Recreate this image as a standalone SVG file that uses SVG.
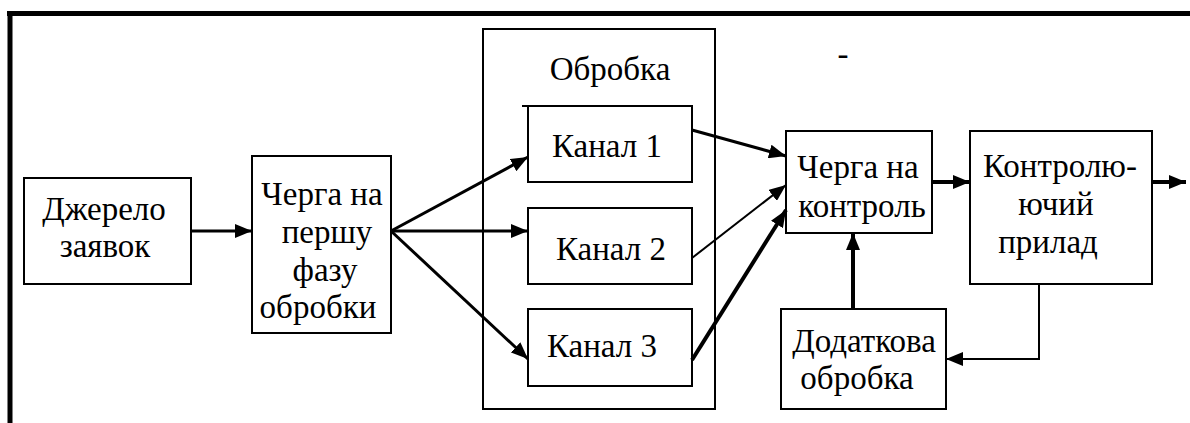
<svg xmlns="http://www.w3.org/2000/svg" width="1190" height="423" viewBox="0 0 1190 423">
<style>
.box{fill:#fff;stroke:#000;stroke-width:2}
.t{font-size:33px;fill:#000;text-anchor:middle}
.c{fill:none;stroke:#000;stroke-width:3}
.a{marker-end:url(#ah)}
</style>
<defs>
<marker id="ah" markerUnits="userSpaceOnUse" markerWidth="18" markerHeight="14" refX="17" refY="7" orient="auto">
<path d="M0,0 L17,7 L0,14 z" fill="#000"/>
</marker>
</defs>
<rect width="1190" height="423" fill="#fff"/>
<g id="frame">
<line x1="7" y1="13.5" x2="1190" y2="13.5" stroke="#000" stroke-width="5"/>
<line x1="10" y1="11" x2="10" y2="423" stroke="#000" stroke-width="5"/>
</g>
<g font-family="Liberation Serif, DejaVu Serif, serif">
<g id="processing">
<rect class="box" x="483" y="29" width="232" height="380"/>
<text class="t" x="610" y="80">Обробка</text>
</g>
<g id="source">
<rect class="box" x="24" y="178" width="167" height="106"/>
<text class="t" x="104" y="220">Джерело</text>
<text class="t" x="105" y="257">заявок</text>
</g>
<g id="queue1">
<rect class="box" x="252" y="156" width="139" height="177"/>
<text class="t" x="322" y="205">Черга на</text>
<text class="t" x="327" y="243">першу</text>
<text class="t" x="325" y="281">фазу</text>
<text class="t" x="318" y="318">обробки</text>
</g>
<g id="channel1">
<rect class="box" x="528" y="106" width="164" height="76"/>
<line x1="522" y1="106" x2="528" y2="106" stroke="#000" stroke-width="2"/>
<text class="t" x="607" y="157">Канал 1</text>
</g>
<g id="channel2">
<rect class="box" x="528" y="208" width="164" height="76"/>
<text class="t" x="611" y="260">Канал 2</text>
</g>
<g id="channel3">
<rect class="box" x="528" y="309" width="164" height="77"/>
<text class="t" x="602" y="357">Канал 3</text>
</g>
<g id="queue2">
<rect class="box" x="786" y="131" width="146" height="102"/>
<text class="t" x="858" y="178">Черга на</text>
<text class="t" x="862" y="217">контроль</text>
</g>
<g id="controller">
<rect class="box" x="970" y="131" width="182" height="153"/>
<text class="t" x="1060" y="177">Контролю-</text>
<text class="t" x="1056" y="215">ючий</text>
<text class="t" x="1048" y="253">прилад</text>
</g>
<g id="extra">
<rect class="box" x="781" y="309" width="165" height="100"/>
<text class="t" x="864" y="352">Додаткова</text>
<text class="t" x="857" y="389">обробка</text>
</g>
<text class="t" x="843" y="65">-</text>
</g>
<g id="connectors">
<line class="c a" x1="191" y1="231" x2="252" y2="231"/>
<line class="c a" x1="391" y1="231" x2="528" y2="157"/>
<line class="c a" x1="391" y1="231" x2="528" y2="231"/>
<line class="c a" x1="391" y1="231" x2="528" y2="359"/>
<line class="c a" x1="692" y1="130" x2="786" y2="156"/>
<line class="c a" x1="692" y1="258" x2="786" y2="185" style="stroke-width:2"/>
<line class="c a" x1="692" y1="360" x2="786" y2="210" style="stroke-width:4"/>
<line class="c a" x1="932" y1="182" x2="970" y2="182" style="stroke-width:4"/>
<line class="c a" x1="1152" y1="182" x2="1186" y2="182" style="stroke-width:4"/>
<line class="c a" x1="853" y1="309" x2="853" y2="233" style="stroke-width:4"/>
<polyline class="c a" points="1039,284 1039,359 946,359" style="stroke-width:2"/>
</g>
</svg>
